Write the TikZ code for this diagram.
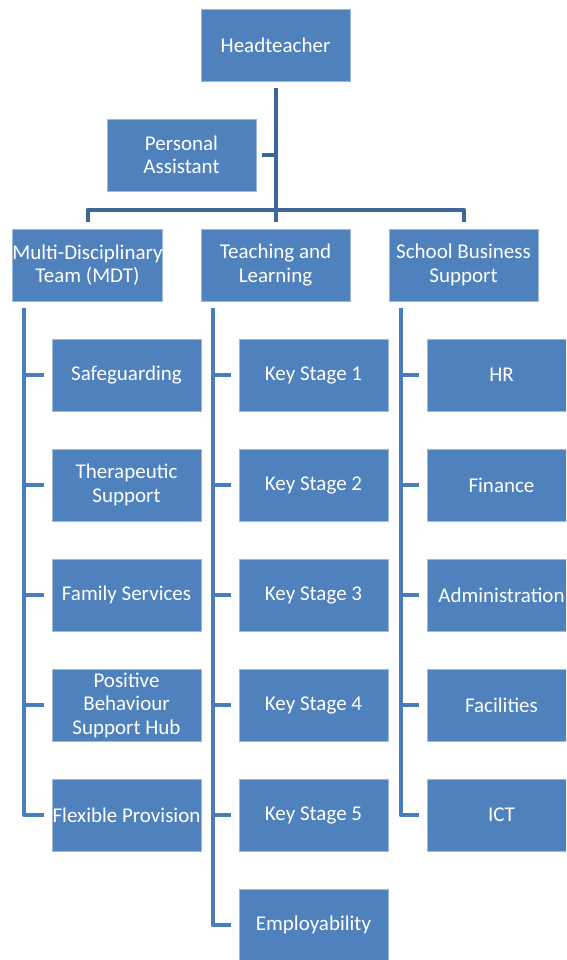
\documentclass[tikz,border=0pt]{standalone}
\usepackage{fontspec}
\setmainfont{Carlito}
\usetikzlibrary{calc}
\definecolor{boxblue}{HTML}{4F81BD}
\definecolor{boxedge}{HTML}{9DB8DC}
\definecolor{topline}{HTML}{3E6797}
\definecolor{subline}{HTML}{4A7EBB}
\tikzset{
  orgbox/.style={rectangle, fill=boxblue, draw=boxedge, line width=0.8pt,
    minimum width=149pt, minimum height=72pt, inner sep=0pt, align=center,
    text=white, font=\fontsize{21}{23.5}\selectfont},
  topconn/.style={draw=topline, line width=4pt, line join=round},
  subconn/.style={draw=subline, line width=4pt, line join=round}
}
\begin{document}
\begin{tikzpicture}[x=1pt,y=-1pt]
\clip (0,0) rectangle (566,960);
\fill[white] (0,0) rectangle (566,960);
% top levels
\node[orgbox] (hd) at (275.5,45) {Headteacher};
\node[orgbox] (pa) at (181.5,155) {Personal\\Assistant};
\node[orgbox] (mdt) at (87.5,265) {Multi-Disciplinary\\Team (MDT)};
\node[orgbox] (tl) at (275.5,265) {Teaching and\\Learning};
\node[orgbox] (sbs) at (463.5,265) {School Business\\Support};
% MDT children
\node[orgbox] (m1) at (126.5,375) {Safeguarding};
\node[orgbox] (m2) at (126.5,485) {Therapeutic\\Support};
\node[orgbox] (m3) at (126.5,595) {Family Services};
\node[orgbox] (m4) at (126.5,705) {Positive\\Behaviour\\Support Hub};
\node[orgbox] (m5) at (126.5,815) {Flexible Provision};
% TL children
\node[orgbox] (t1) at (313.5,375) {Key Stage 1};
\node[orgbox] (t2) at (313.5,485) {Key Stage 2};
\node[orgbox] (t3) at (313.5,595) {Key Stage 3};
\node[orgbox] (t4) at (313.5,705) {Key Stage 4};
\node[orgbox] (t5) at (313.5,815) {Key Stage 5};
\node[orgbox] (t6) at (313.5,925) {Employability};
% SBS children
\node[orgbox] (s1) at (501.5,375) {HR};
\node[orgbox] (s2) at (501.5,485) {Finance};
\node[orgbox] (s3) at (501.5,595) {Administration};
\node[orgbox] (s4) at (501.5,705) {Facilities};
\node[orgbox] (s5) at (501.5,815) {ICT};
% top connectors
\draw[topconn] ($(hd.south)+(0,7)$) -- ($(tl.north)+(0,-7)$);
\draw[topconn] ($(mdt.north)+(0,-7)$) |- ($(tl.north)+(0,-19)$) -| ($(sbs.north)+(0,-7)$);
\draw[topconn] ($(pa.east)+(6,0)$) -- (pa.east -| hd.south);
% MDT connectors
\coordinate (mv) at ($(mdt.south west)+(12,7)$);
\draw[subconn] (mv) |- ($(m5.west)+(-8,0)$);
\foreach \n in {m1,m2,m3,m4} \draw[subconn] ($(\n.west)+(-8,0)$) -- (\n.west -| mv);
% TL connectors
\coordinate (tv) at ($(tl.south west)+(12,7)$);
\draw[subconn] (tv) |- ($(t6.west)+(-8,0)$);
\foreach \n in {t1,t2,t3,t4,t5} \draw[subconn] ($(\n.west)+(-8,0)$) -- (\n.west -| tv);
% SBS connectors
\coordinate (sv) at ($(sbs.south west)+(12,7)$);
\draw[subconn] (sv) |- ($(s5.west)+(-8,0)$);
\foreach \n in {s1,s2,s3,s4} \draw[subconn] ($(\n.west)+(-8,0)$) -- (\n.west -| sv);
\end{tikzpicture}
\end{document}
